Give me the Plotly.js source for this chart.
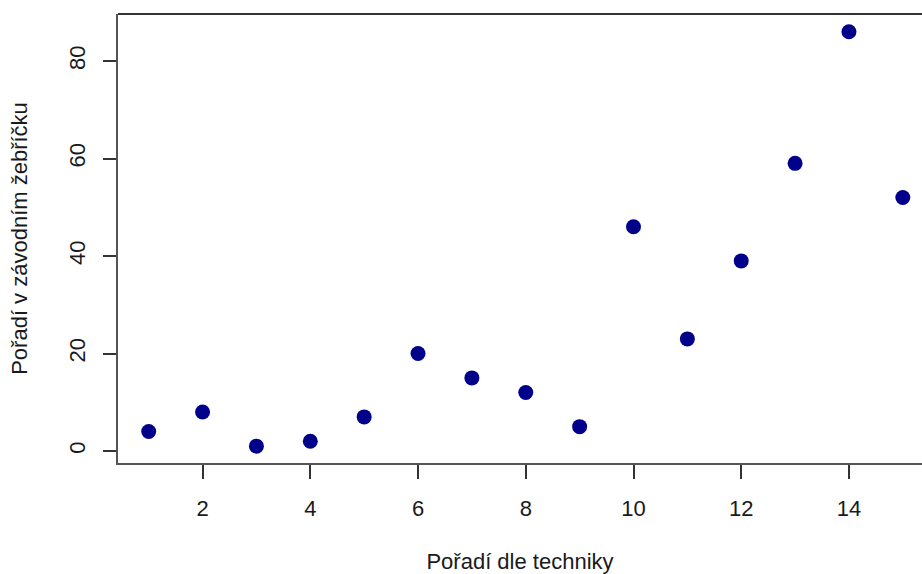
<!DOCTYPE html>
<html><head><meta charset="utf-8">
<script src="https://cdn.plot.ly/plotly-3.0.1.min.js"></script>
<style>html,body{margin:0;padding:0;background:#fff;overflow:hidden}</style>
</head><body><div id="chart" style="width:922px;height:574px"></div>
<script>
const techRank = [1,2,3,4,5,6,7,8,9,10,11,12,13,14,15];
const raceRank = [4,8,1,2,7,20,15,12,5,46,23,39,59,86,52];
const xTicks = [2,4,6,8,10,12,14];
const yTicks = [0,20,40,60,80];
const xTitle = 'Pořadí dle techniky';
const yTitle = 'Pořadí v závodním žebříčku';

const font = {family:'Liberation Sans, Arial, sans-serif', size:22, color:'#1a1a1a'};
Plotly.newPlot('chart', [{
  x: techRank, y: raceRank, type:'scatter', mode:'markers',
  marker:{color:'#00008B', size:15, line:{width:0}},
  hoverinfo:'x+y'
}], {
  width:922, height:574,
  margin:{l:118, r:0, t:14, b:111},
  paper_bgcolor:'#fff', plot_bgcolor:'#fff',
  font: font,
  showlegend:false,
  xaxis:{range:[0.43,15.356], tickvals:xTicks, ticktext:xTicks.map(String),
    showgrid:false, zeroline:false, showline:true, linecolor:'#555', linewidth:2,
    ticks:'outside', ticklen:14, tickwidth:2, tickcolor:'#333',
    ticklabelstandoff:11, tickfont:font,
    title:{text:xTitle, font:font, standoff:38}},
  yaxis:{range:[-2.46,89.64], tickvals:yTicks, ticktext:yTicks.map(String),
    showgrid:false, zeroline:false, showline:true, linecolor:'#555', linewidth:2,
    ticks:'outside', ticklen:13, tickwidth:2, tickcolor:'#333', tickangle:-90,
    ticklabelstandoff:9, tickfont:font,
    title:{text:yTitle, font:font, standoff:32}},
  shapes:[{type:'line', xref:'paper', yref:'paper', x0:0, x1:1, y0:1, y1:1,
    line:{color:'#333', width:2}}]
}, {displayModeBar:false});
</script></body></html>
